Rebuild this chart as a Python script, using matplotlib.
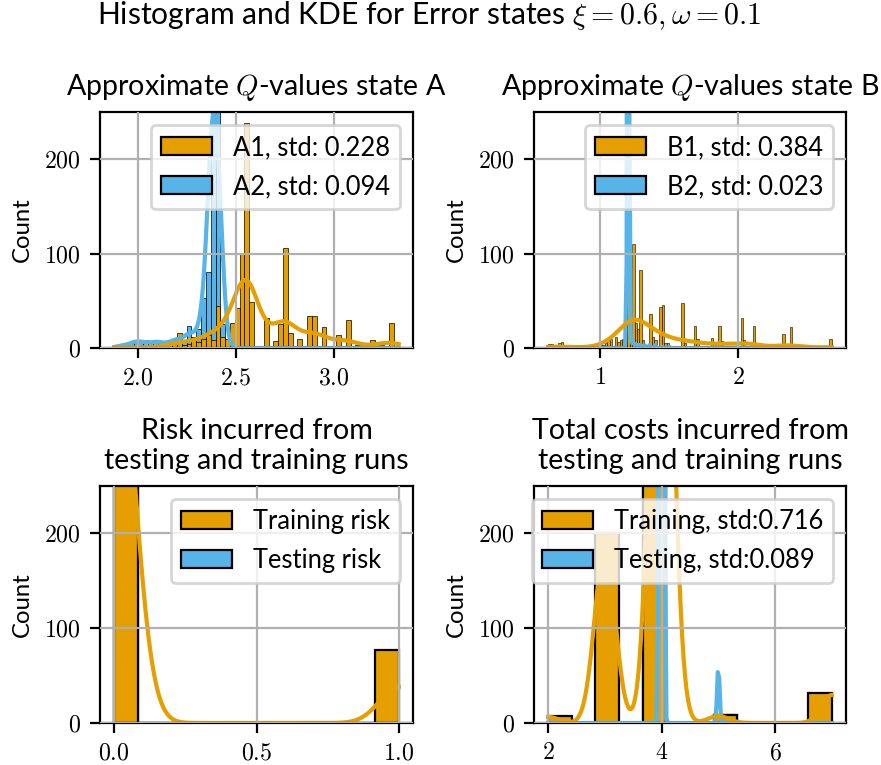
import numpy as np
import matplotlib
matplotlib.use("Agg")
import matplotlib.pyplot as plt
from matplotlib.patches import Patch
from matplotlib.ticker import MultipleLocator, StrMethodFormatter

# colours (Okabe-Ito)
ORANGE = "#E69F00"
BLUE = "#56B4E9"

# --- State A: Q-value samples (bar positions) and counts ---
a_range = (1.88, 3.33)
a_nbins = 59
a1_values = [1.89, 1.94, 2.01, 2.09, 2.14, 2.19, 2.21, 2.24, 2.26, 2.29, 2.31, 2.34,
             2.36, 2.38, 2.41, 2.43, 2.46, 2.48, 2.51, 2.53, 2.56, 2.58, 2.66, 2.70,
             2.73, 2.75, 2.78, 2.83, 2.88, 2.90, 2.95, 3.02, 3.07, 3.12, 3.20, 3.25,
             3.29, 3.32]
a1_counts = [2, 1, 2, 3, 2, 5, 16, 3, 4, 12, 6, 10,
             14, 8, 45, 12, 10, 26, 42, 100, 238, 49, 32, 7,
             25, 106, 16, 10, 34, 34, 22, 14, 30, 3, 8, 3,
             26, 2]
a2_values = [1.89, 1.92, 1.94, 1.97, 1.99, 2.01, 2.04, 2.07, 2.09, 2.11, 2.14, 2.16,
             2.19, 2.21, 2.24, 2.26, 2.29, 2.31, 2.34, 2.36, 2.38, 2.41, 2.43, 2.46]
a2_counts = [2, 3, 3, 6, 6, 7, 8, 5, 6, 7, 5, 6,
             10, 10, 8, 23, 12, 20, 53, 80, 380, 300, 25, 3]

# --- State B ---
b_range = (0.627, 2.677)
b_nbins = 115
b1_values = [0.64, 0.66, 0.70, 0.72, 0.87, 0.97, 1.01, 1.03, 1.05, 1.07, 1.09, 1.11,
             1.13, 1.15, 1.17, 1.19, 1.202, 1.22, 1.246, 1.26, 1.28, 1.299, 1.32, 1.365,
             1.383, 1.40, 1.442, 1.46, 1.478, 1.50, 1.605, 1.62, 1.68, 1.70, 1.81, 1.83,
             1.868, 1.885, 2.027, 2.05, 2.109, 2.33, 2.379, 2.663]
b1_counts = [4, 4, 5, 6, 3, 2, 3, 3, 5, 8, 10, 12,
             6, 9, 10, 25, 68, 30, 110, 26, 20, 83, 8, 36,
             12, 8, 43, 46, 5, 5, 48, 5, 23, 10, 11, 5,
             23, 7, 32, 8, 23, 15, 22, 10]
b2_values = [1.19, 1.205, 1.22, 1.24, 1.26, 1.28, 1.30, 1.33, 1.36, 1.40, 1.45, 1.50]
b2_counts = [4, 960, 12, 6, 4, 3, 3, 2, 2, 2, 1, 1]

# --- Risk (0 = safe, 1 = risky episode) ---
risk_range = (0.0, 1.0)
risk_nbins = 12
train_risk_values = [0.0, 1.0]
train_risk_counts = [923, 77]
test_risk_values = [0.0]
test_risk_counts = [1000]

# --- Total costs ---
cost_range = (2.0, 7.0)
cost_nbins = 12
train_cost_values = [2, 3, 4, 5, 7]
train_cost_counts = [7, 200, 753, 8, 32]
test_cost_values = [4, 5]
test_cost_counts = [992, 8]

plt.rcParams.update({
    "font.family": ["Lato", "DejaVu Sans"],
    "font.size": 8.6,
    "mathtext.fontset": "cm",
    "axes.axisbelow": False,
    "axes.linewidth": 0.8,
    "grid.color": "#b0b0b0",
    "grid.linewidth": 0.8,
})


def kde_curve(values, counts, grid, binw):
    # gaussian KDE (Scott's rule) scaled to the count axis like seaborn does
    v = np.asarray(values, float)
    w = np.asarray(counts, float)
    n = w.sum()
    mean = np.sum(w * v) / n
    std = np.sqrt(np.sum(w * (v - mean) ** 2) / n)
    if std == 0:
        return None
    h = std * n ** (-1 / 5)
    z = (grid[:, None] - v[None, :]) / h
    dens = (w[None, :] * np.exp(-0.5 * z ** 2)).sum(axis=1) / (np.sqrt(2 * np.pi) * h)
    return dens * binw


def hist_kde(ax, rng, nbins, series, bar_lw):
    edges = np.linspace(rng[0], rng[1], nbins + 1)
    binw = edges[1] - edges[0]
    grid = np.linspace(rng[0], rng[1], 200)
    # second series drawn first, first series on top (seaborn hue layering)
    for values, counts, color in series[::-1]:
        ax.hist(values, bins=edges, weights=counts, color=color,
                edgecolor="black", linewidth=bar_lw)
    for values, counts, color in series[::-1]:
        curve = kde_curve(values, counts, grid, binw)
        if curve is not None:
            ax.plot(grid, curve, color=color, lw=1.5)


def style(ax, title, labels, xfmt, xstep):
    ax.set_ylim(0, 250)
    ax.yaxis.set_major_locator(MultipleLocator(100))
    ax.yaxis.set_major_formatter(StrMethodFormatter("${x:.0f}$"))
    ax.xaxis.set_major_locator(MultipleLocator(xstep))
    ax.xaxis.set_major_formatter(StrMethodFormatter(xfmt))
    ax.grid(True)
    ax.set_ylabel("Count")
    ax.set_title(title)
    handles = [Patch(facecolor=ORANGE, edgecolor="black", linewidth=0.8),
               Patch(facecolor=BLUE, edgecolor="black", linewidth=0.8)]
    ax.legend(handles, labels, loc="upper right", fontsize=9.2, labelspacing=0.55)


fig = plt.figure(figsize=(4.405, 3.825), dpi=200)
W, H = 881, 765
ax_tl = fig.add_axes([100 / W, 1 - 348 / H, 313 / W, 236 / H])
ax_tr = fig.add_axes([534 / W, 1 - 348 / H, 312 / W, 236 / H])
ax_bl = fig.add_axes([100 / W, 1 - 723 / H, 313 / W, 237 / H])
ax_br = fig.add_axes([534 / W, 1 - 723 / H, 312 / W, 237 / H])

hist_kde(ax_tl, a_range, a_nbins,
         [(a1_values, a1_counts, ORANGE), (a2_values, a2_counts, BLUE)], 0.25)
style(ax_tl, "Approximate $Q$-values state A",
      ["A1, std: 0.228", "A2, std: 0.094"], "${x:.1f}$", 0.5)

hist_kde(ax_tr, b_range, b_nbins,
         [(b1_values, b1_counts, ORANGE), (b2_values, b2_counts, BLUE)], 0.2)
style(ax_tr, "Approximate $Q$-values state B",
      ["B1, std: 0.384", "B2, std: 0.023"], "${x:.0f}$", 1)

hist_kde(ax_bl, risk_range, risk_nbins,
         [(train_risk_values, train_risk_counts, ORANGE),
          (test_risk_values, test_risk_counts, BLUE)], 0.8)
style(ax_bl, "Risk incurred from\ntesting and training runs",
      ["Training risk", "Testing risk"], "${x:.1f}$", 0.5)
ax_bl.set_xlim(-0.05, 1.05)

hist_kde(ax_br, cost_range, cost_nbins,
         [(train_cost_values, train_cost_counts, ORANGE),
          (test_cost_values, test_cost_counts, BLUE)], 0.8)
style(ax_br, "Total costs incurred from\ntesting and training runs",
      ["Training, std:0.716", "Testing, std:0.089"], "${x:.0f}$", 2)

fig.text(429 / W, 1 - 24 / H,
         "Histogram and KDE for Error states $\\xi = 0.6, \\omega = 0.1$",
         ha="center", va="baseline", fontsize=10.8)

fig.savefig("out.png", dpi=200)
